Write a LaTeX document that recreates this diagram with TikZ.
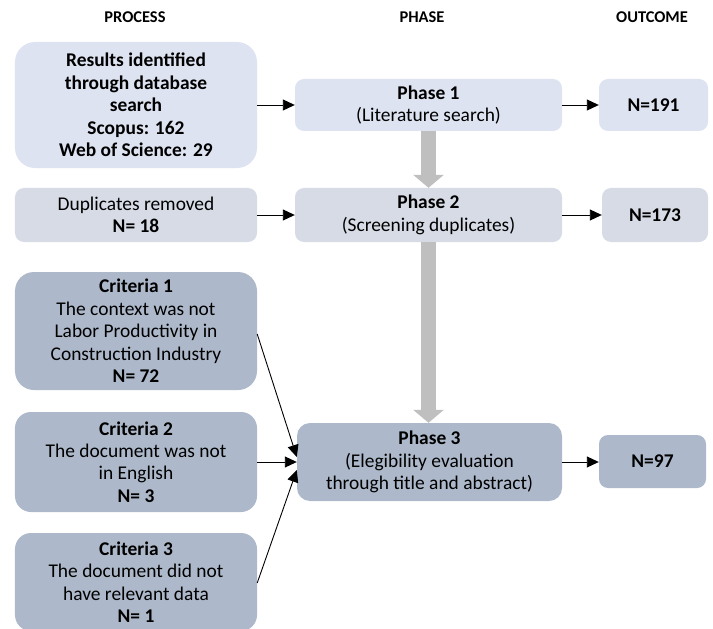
\documentclass[tikz,border=0pt]{standalone}
\usepackage{fontspec}
\setmainfont{Carlito}
\usetikzlibrary{arrows.meta,calc}
\definecolor{cA}{HTML}{DEE3F1}
\definecolor{cB}{HTML}{D6DBE5}
\definecolor{cC}{HTML}{ADB9CA}
\definecolor{garrow}{HTML}{BFBFBF}
\tikzset{
  box/.style={draw=none, rectangle, align=center, inner sep=1bp, font=\fontsize{19.5}{22.5}\selectfont},
  head/.style={font=\fontsize{16.5}{19}\selectfont\bfseries},
  conn/.style={line width=0.9bp, black, -{Triangle[length=12bp,width=11bp]}},
  graya/.style={line width=15bp, garrow, -{Triangle[length=13bp,width=30bp]}},
}
\begin{document}
\begin{tikzpicture}[x=1bp,y=-1bp]
\useasboundingbox (0,0) rectangle (713,629);
\node[head] (hproc) at (135,17) {PROCESS};
\node[head] (hphase) at (422,17) {PHASE};
\node[head] (hout) at (652,17) {OUTCOME};

\node[box, fill=cA, minimum width=242bp, minimum height=126bp, rounded corners=20bp] (res) at (136,105)
  {\textbf{Results identified}\\\textbf{through database}\\\textbf{search}\\\textbf{Scopus: 162}\\\textbf{Web of Science: 29}};
\node[box, fill=cA, minimum width=267bp, minimum height=52bp, rounded corners=9bp] (p1) at (428.5,105)
  {\textbf{Phase 1}\\(Literature search)};
\node[box, fill=cA, minimum width=109bp, minimum height=52bp, rounded corners=9bp] (n1) at (653.5,105)
  {\textbf{N=191}};

\node[box, fill=cB, minimum width=242bp, minimum height=54bp, rounded corners=9bp] (dup) at (136,215)
  {Duplicates removed\\\textbf{N= 18}};
\node[box, fill=cB, minimum width=267bp, minimum height=54bp, rounded corners=9bp] (p2) at (428.5,215)
  {\textbf{Phase 2}\\(Screening duplicates)};
\node[box, fill=cB, minimum width=106bp, minimum height=54bp, rounded corners=9bp] (n2) at (655,215)
  {\textbf{N=173}};

\node[box, fill=cC, minimum width=242bp, minimum height=118bp, rounded corners=19bp] (c1) at (136,331)
  {\textbf{Criteria 1}\\The context was not\\Labor Productivity in\\Construction Industry\\\textbf{N= 72}};
\node[box, fill=cC, minimum width=242bp, minimum height=100bp, rounded corners=16bp] (c2) at (136,462)
  {\textbf{Criteria 2}\\The document was not\\in English\\\textbf{N= 3}};
\node[box, fill=cC, minimum width=242bp, minimum height=98bp, rounded corners=16bp] (c3) at (136,582)
  {\textbf{Criteria 3}\\The document did not\\have relevant data\\\textbf{N= 1}};
\node[box, fill=cC, minimum width=265bp, minimum height=78bp, rounded corners=13bp] (p3) at (429.5,462)
  {\textbf{Phase 3}\\(Elegibility evaluation\\through title and abstract)};
\node[box, fill=cC, minimum width=107bp, minimum height=53bp, rounded corners=9bp] (n3) at (652.5,461.5)
  {\textbf{N=97}};

\draw[conn] (res.east) -- (res.east -| p1.west);
\draw[conn] (p1.east) -- (n1.west);
\draw[conn] (dup.east) -- (dup.east -| p2.west);
\draw[conn] (p2.east) -- (p2.east -| n2.west);
\draw[conn] (p3.east) -- (p3.east -| n3.west);
\draw[conn] ([yshift=-3bp]c1.east) -- ([yshift=5bp]p3.west);
\draw[conn] (c2.east) -- (p3.west);
\draw[conn] ([yshift=-1bp]c3.east) -- ([yshift=-8bp]p3.west);

\draw[graya] (p1.south) -- (p2.north);
\draw[graya] (p2.south) -- (p2.south |- p3.north);
\end{tikzpicture}
\end{document}
